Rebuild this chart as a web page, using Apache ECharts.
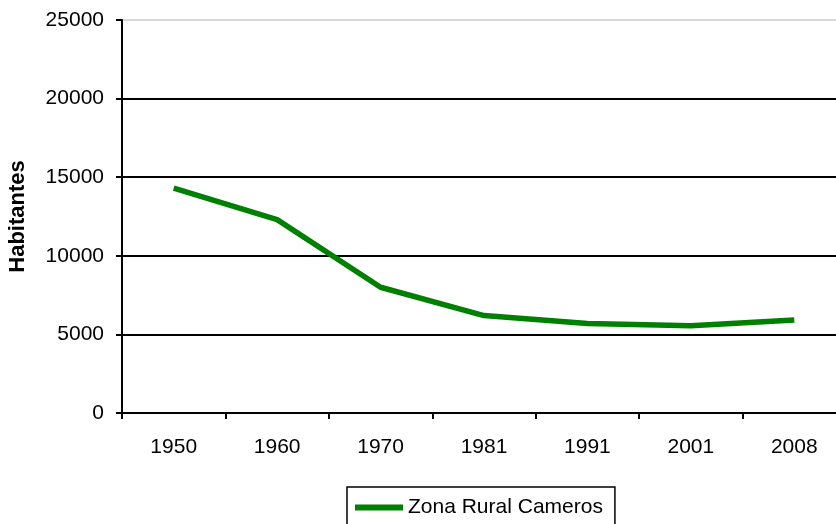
<!DOCTYPE html>
<html>
<head>
<meta charset="utf-8">
<script src="https://cdn.jsdelivr.net/npm/echarts@6/dist/echarts.min.js"></script>
<style>
  html, body { margin: 0; padding: 0; background: #fff; }
  #chart { width: 836px; height: 524px; }
</style>
</head>
<body>
<div id="chart"></div>
<script>
// Población de la Zona Rural de Cameros por año censal
const years = ['1950', '1960', '1970', '1981', '1991', '2001', '2008'];
const habitantes = [14300, 12300, 8000, 6200, 5700, 5550, 5920];
const seriesName = 'Zona Rural Cameros';
const yTicks = [0, 5000, 10000, 15000, 20000, 25000];

const font = '"Liberation Sans", Arial, sans-serif';
const chart = echarts.init(document.getElementById('chart'), null, { renderer: 'canvas' });

chart.setOption({
  animation: false,
  backgroundColor: '#fff',
  textStyle: { fontFamily: font },
  grid: {
    left: 122, top: 20, width: 724, height: 393,
    containLabel: false,
    outerBoundsMode: 'none'
  },
  legend: {
    data: [seriesName],
    left: 347,
    top: 487,
    padding: [10, 12, 12, 8],
    borderColor: '#000',
    borderWidth: 1.5,
    itemWidth: 48,
    itemHeight: 6,
    icon: 'rect',
    itemGap: 0,
    textStyle: { fontFamily: font, fontSize: 21, color: '#000' }
  },
  xAxis: {
    type: 'category',
    data: years,
    boundaryGap: true,
    axisLine: { lineStyle: { color: '#000', width: 2 } },
    axisTick: { show: true, length: 6, lineStyle: { color: '#000', width: 2 } },
    axisLabel: { margin: 24, color: '#000', fontSize: 21, fontFamily: font },
    splitLine: { show: false }
  },
  yAxis: {
    type: 'value',
    min: yTicks[0],
    max: yTicks[yTicks.length - 1],
    interval: yTicks[1] - yTicks[0],
    name: 'Habitantes',
    nameLocation: 'middle',
    nameGap: 93,
    nameTextStyle: { fontFamily: font, fontSize: 22, fontWeight: 'bold', color: '#000' },
    axisLine: { show: true, lineStyle: { color: '#000', width: 2 } },
    axisTick: { show: true, length: 6, lineStyle: { color: '#000', width: 2 } },
    axisLabel: {
      margin: 18, color: '#000', fontSize: 21, fontFamily: font,
      formatter: (v) => String(v)
    },
    splitLine: {
      show: true,
      lineStyle: { color: ['#000', '#000', '#000', '#000', '#000', '#d9d9d9'], width: 2 }
    }
  },
  series: [{
    name: seriesName,
    type: 'line',
    data: habitantes,
    symbol: 'none',
    lineStyle: { color: '#008000', width: 5.5 },
    itemStyle: { color: '#008000' }
  }]
});
</script>
</body>
</html>
